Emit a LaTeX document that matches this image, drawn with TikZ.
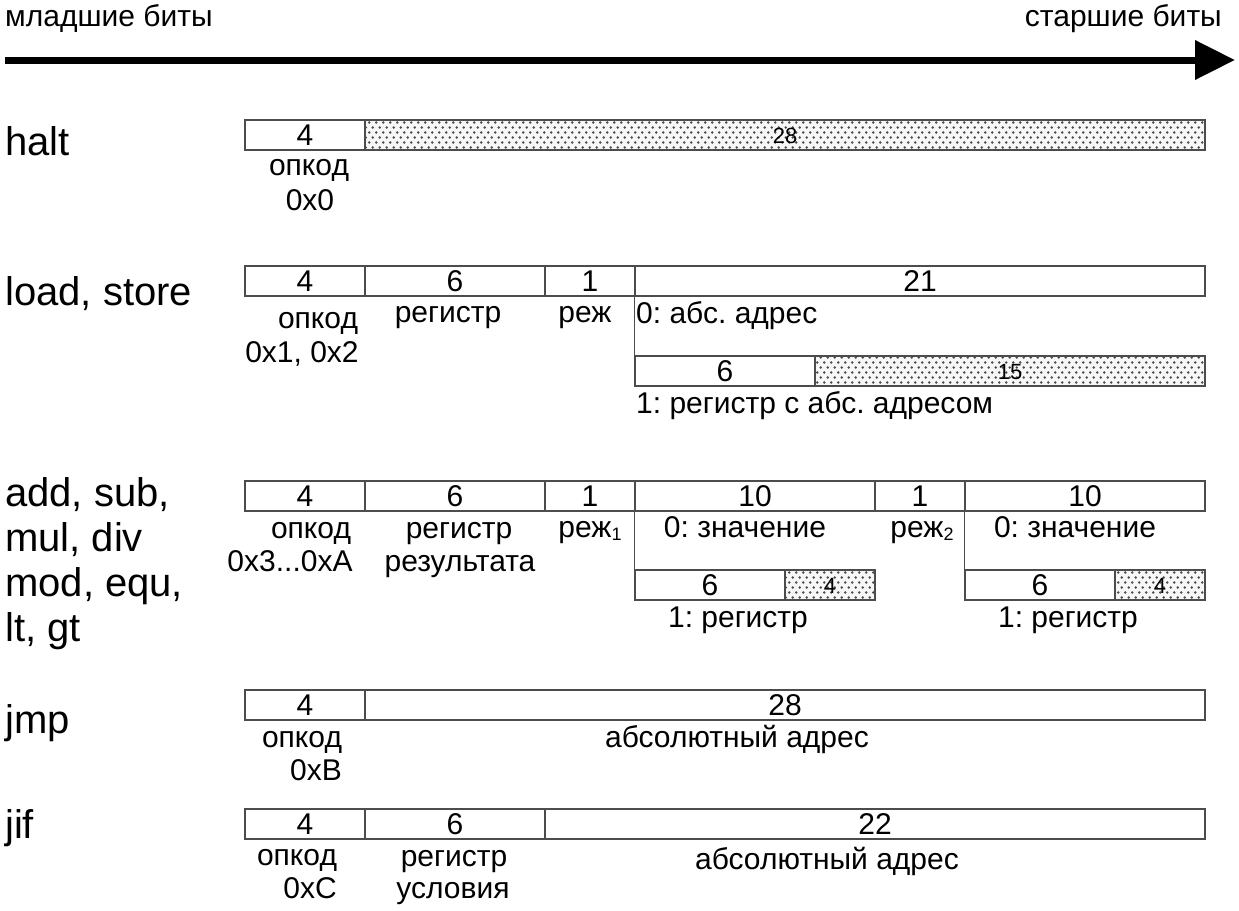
\documentclass[tikz,border=0pt]{standalone}
\usepackage{fontspec}
\setmainfont{Liberation Sans}
\usetikzlibrary{patterns,arrows.meta}
\pgfdeclarepatternformonly{mydots}{\pgfpoint{-1pt}{-1pt}}{\pgfpoint{8pt}{11pt}}{\pgfpoint{7pt}{10pt}}{%
  \pgfpathcircle{\pgfpoint{1.75pt}{2.5pt}}{1.4pt}%
  \pgfpathcircle{\pgfpoint{5.25pt}{7.5pt}}{1.4pt}%
  \pgfusepath{fill}}
\newcommand{\sbs}[1]{\raisebox{-3pt}{\fontsize{18}{18}\selectfont #1}}
\frenchspacing
\begin{document}
\begin{tikzpicture}[x=1pt,y=-1pt,
  cell/.style={draw=black!70, line width=1.2pt, rectangle, inner sep=0pt, minimum height=30pt, text height=21pt, text depth=0pt, font=\fontsize{30}{32}\selectfont},
  dotcell/.style={cell, fill=gray!6, postaction={pattern=mydots, pattern color=black!70}, font=\fontsize{22}{24}\selectfont, text height=16pt},
  lbl/.style={anchor=base, inner sep=0pt, font=\fontsize{30}{32}\selectfont},
  lblw/.style={lbl, anchor=base west},
  big/.style={anchor=base west, inner sep=0pt, font=\fontsize{40}{44}\selectfont},
  conn/.style={draw=black!70, line width=1.2pt}]
\useasboundingbox (0,0) rectangle (1239,910);

% top arrow
\node[lblw] (lo) at (5,27) {младшие биты};
\node[lbl, anchor=base east] (hi) at (1222,27) {старшие биты};
\coordinate (s) at (5,60);
\coordinate (e) at (1235,60);
\draw[line width=7pt, -{Triangle[length=40pt,width=38pt]}] (s) -- (e);

% halt
\node[big] (nhalt) at (5,155) {halt};
\node[cell, minimum width=120pt] (h1) at (305,135) {4};
\node[dotcell, minimum width=840pt] (h2) at (785,135) {28};
\node[lbl] (h1a) at (309,175) {опкод};
\node[lbl] (h1b) at (310,210) {0x0};

% load, store
\node[big] (nload) at (5,305) {load, store};
\node[cell, minimum width=120pt] (l1) at (305,281) {4};
\node[cell, minimum width=180pt] (l2) at (455,281) {6};
\node[cell, minimum width=90pt] (l3) at (590,281) {1};
\node[cell, minimum width=570pt] (l4) at (920,281) {21};
\node[cell, minimum width=180pt] (l5) at (725,371) {6};
\node[dotcell, minimum width=390pt] (l6) at (1010,371) {15};
\draw[conn] (l4.south west) -- (l5.north west);
\node[lbl] (l1a) at (318,328) {опкод};
\node[lbl] (l1b) at (302,362) {0x1, 0x2};
\node[lbl] (l2a) at (448,322) {регистр};
\node[lbl] (l3a) at (585,322) {реж};
\node[lblw] (l4a) at (636,323) {0: абс. адрес};
\node[lblw] (l5a) at (636,413) {1: регистр с абс. адресом};

% arithmetic
\node[big] (nadd1) at (5,506) {add, sub,};
\node[big] (nadd2) at (5,551) {mul, div};
\node[big] (nadd3) at (5,596) {mod, equ,};
\node[big] (nadd4) at (5,641) {lt, gt};
\node[cell, minimum width=120pt] (a1) at (305,496) {4};
\node[cell, minimum width=180pt] (a2) at (455,496) {6};
\node[cell, minimum width=90pt] (a3) at (590,496) {1};
\node[cell, minimum width=240pt] (a4) at (755,496) {10};
\node[cell, minimum width=90pt] (a5) at (920,496) {1};
\node[cell, minimum width=240pt] (a6) at (1085,496) {10};
\node[cell, minimum width=150pt] (a7) at (710,585) {6};
\node[dotcell, minimum width=90pt] (a8) at (830,585) {4};
\node[cell, minimum width=150pt] (a9) at (1040,585) {6};
\node[dotcell, minimum width=90pt] (a10) at (1160,585) {4};
\draw[conn] (a4.south west) -- (a7.north west);
\draw[conn] (a6.south west) -- (a9.north west);
\node[lbl] (a1a) at (311,538) {опкод};
\node[lbl] (a1b) at (290,571) {0x3...0xA};
\node[lbl] (a2a) at (459,538) {регистр};
\node[lbl] (a2b) at (460,571) {результата};
\node[lbl] (a3a) at (590,537) {реж\sbs{1}};
\node[lbl] (a4a) at (745,537) {0: значение};
\node[lbl] (a5a) at (922,537) {реж\sbs{2}};
\node[lbl] (a6a) at (1075,537) {0: значение};
\node[lbl] (a7a) at (738,627) {1: регистр};
\node[lbl] (a9a) at (1068,627) {1: регистр};

% jmp
\node[big] (njmp) at (5,733) {jmp};
\node[cell, minimum width=120pt] (j1) at (305,705) {4};
\node[cell, minimum width=840pt] (j2) at (785,705) {28};
\node[lbl] (j1a) at (302,747) {опкод};
\node[lbl] (j1b) at (316,780) {0xB};
\node[lbl] (j2a) at (737,747) {абсолютный адрес};

% jif
\node[big] (njif) at (5,838) {jif};
\node[cell, minimum width=120pt] (f1) at (305,824) {4};
\node[cell, minimum width=180pt] (f2) at (455,824) {6};
\node[cell, minimum width=660pt] (f3) at (875,824) {22};
\node[lbl] (f1a) at (297,865) {опкод};
\node[lbl] (f1b) at (310,898) {0xC};
\node[lbl] (f2a) at (454,866) {регистр};
\node[lbl] (f2b) at (453,898) {условия};
\node[lbl] (f3a) at (827,869) {абсолютный адрес};
\end{tikzpicture}
\end{document}
